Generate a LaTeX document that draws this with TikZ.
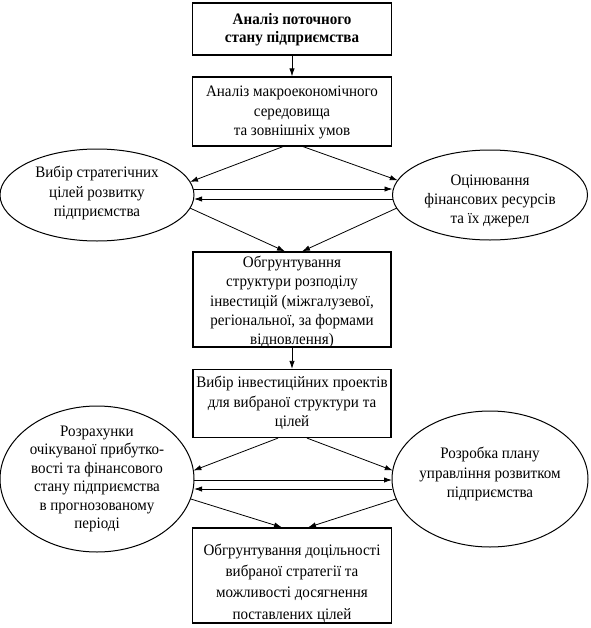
\documentclass[tikz,border=0pt]{standalone}
\usepackage{fontspec}
\setmainfont{Liberation Serif}[FakeStretch=0.94]
\usetikzlibrary{arrows.meta,calc,shapes.geometric}
\def\pxu{0.75pt}
\begin{document}
\begin{tikzpicture}[x=0.75pt,y=-0.75pt,
  boxshape/.style={draw,line width=0.9pt,rectangle,inner sep=0pt},
  ovalshape/.style={draw,line width=0.75pt,ellipse,inner sep=0pt,outer sep=0pt},
  txt/.style={align=center,font=\fontsize{12}{14.5}\selectfont,inner sep=0pt},
  conn/.style={line width=0.6pt,-{Latex[length=6pt,width=4pt]}}]
\useasboundingbox (0,0) rectangle (591,628);
% shapes
\node[boxshape,minimum width=199*\pxu,minimum height=52*\pxu] (b1) at (292,29) {};
\node[boxshape,minimum width=199*\pxu,minimum height=69*\pxu] (b2) at (292,111.5) {};
\node[ovalshape,minimum width=194*\pxu,minimum height=92*\pxu] (e1) at (97,195) {};
\node[ovalshape,minimum width=195*\pxu,minimum height=90*\pxu] (e2) at (490,195) {};
\node[boxshape,minimum width=198*\pxu,minimum height=95*\pxu] (b3) at (292,299.5) {};
\node[boxshape,minimum width=198*\pxu,minimum height=68*\pxu] (b4) at (292,403.5) {};
\node[ovalshape,minimum width=194*\pxu,minimum height=146*\pxu] (e3) at (97,479) {};
\node[ovalshape,minimum width=196*\pxu,minimum height=136*\pxu] (e4) at (490,479) {};
\node[boxshape,minimum width=199*\pxu,minimum height=95*\pxu] (b5) at (292,575.5) {};
% texts
\node[txt,font=\fontsize{12}{13.5}\selectfont\bfseries] (b1t) at (292,30) {Аналіз поточного\\стану підприємства};
\node[txt] (b2t) at (292,112.5) {Аналіз макроекономічного\\середовища\\та зовнішніх умов};
\node[txt] (e1t) at (97,193) {Вибір стратегічних\\цілей розвитку\\підприємства};
\node[txt] (e2t) at (490,201) {Оцінювання\\фінансових ресурсів\\та їх джерел};
\node[txt] (b3t) at (292,302) {Обгрунтування\\структури розподілу\\інвестицій (міжгалузевої,\\регіональної, за формами\\відновлення)};
\node[txt] (b4t) at (292,403) {Вибір інвестиційних проектів\\для вибраної структури та\\цілей};
\node[txt,font=\fontsize{12}{13.8}\selectfont] (e3t) at (97,479) {Розрахунки\\очікуваної прибутко-\\вості та фінансового\\стану підприємства\\в прогнозованому\\періоді};
\node[txt] (e4t) at (490,474) {Розробка плану\\управління розвитком\\підприємства};
\node[txt,font=\fontsize{12}{16}\selectfont] (b5t) at (292,583) {Обгрунтування доцільності\\вибраної стратегії та\\можливості досягнення\\поставлених цілей};
% connectors
\draw[conn] (b1.south) -- (b2.north);
\draw[conn] ($(b2.south)+(-9,0)$) -- (e1.8);
\draw[conn] ($(b2.south)+(11,0)$) -- (e2.171);
\draw[conn] ($(e1.east)+(0,-6)$) -- ($(e2.west)+(0,-6)$);
\draw[conn] ($(e2.west)+(0,4)$) -- ($(e1.east)+(0,4)$);
\draw[conn] (e1.-8) -- ($(b3.north)+(-7,0)$);
\draw[conn] (e2.188) -- ($(b3.north)+(10,0)$);
\draw[conn] (b3.south) -- (b4.north);
\draw[conn] ($(b4.south)+(-14,0)$) -- (e3.5);
\draw[conn] ($(b4.south)+(15,0)$) -- (e4.175);
\draw[conn] ($(e3.east)+(0,1)$) -- ($(e4.west)+(0,1)$);
\draw[conn] ($(e4.west)+(0,10)$) -- ($(e3.east)+(0,10)$);
\draw[conn] (e3.-12) -- ($(b5.north)+(-10,0)$);
\draw[conn] (e4.192) -- ($(b5.north)+(16,0)$);
\end{tikzpicture}
\end{document}
